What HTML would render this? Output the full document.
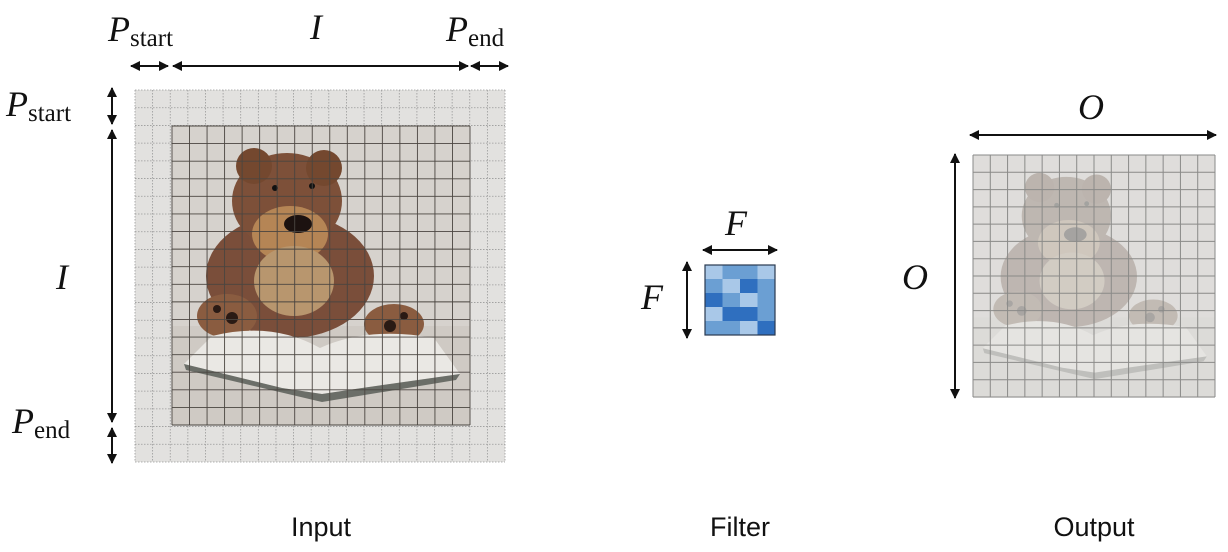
<!DOCTYPE html>
<html><head><meta charset="utf-8"><style>
html,body{margin:0;padding:0;background:#fff;}
svg{display:block;}
.m{font-family:"Liberation Serif",serif;font-style:italic;font-size:36px;fill:#111;}
.s{font-family:"Liberation Serif",serif;font-style:normal;font-size:25px;fill:#111;}
.lab{font-family:"Liberation Sans",sans-serif;font-size:27px;fill:#111;}
</style></head><body>
<svg id="c" width="1228" height="552" viewBox="0 0 1228 552" xmlns="http://www.w3.org/2000/svg">
<defs>
<marker id="ah" viewBox="0 0 10 10" refX="9" refY="5" markerWidth="5" markerHeight="5" orient="auto-start-reverse"><path d="M0,0 L10,5 L0,10 z" fill="#111"/></marker>
<g id="bear">
  <rect x="0" y="0" width="298" height="299" fill="#d6d2cd"/>
  <rect x="0" y="200" width="298" height="99" fill="#cfcac4"/>
  <ellipse cx="118" cy="150" rx="84" ry="62" fill="#7a4e3a"/>
  <ellipse cx="55" cy="190" rx="30" ry="22" fill="#8a5c40"/>
  <ellipse cx="222" cy="198" rx="30" ry="20" fill="#8a5c40"/>
  <ellipse cx="115" cy="75" rx="55" ry="48" fill="#7d5039"/>
  <circle cx="82" cy="40" r="18" fill="#74482f"/>
  <circle cx="152" cy="42" r="18" fill="#74482f"/>
  <ellipse cx="118" cy="108" rx="38" ry="28" fill="#b58555"/>
  <ellipse cx="122" cy="155" rx="40" ry="35" fill="#b8966e"/>
  <ellipse cx="126" cy="98" rx="14" ry="9" fill="#1c1210"/>
  <circle cx="103" cy="62" r="3" fill="#111"/><circle cx="140" cy="60" r="3" fill="#111"/>
  <circle cx="60" cy="192" r="6" fill="#2a1a14"/><circle cx="45" cy="183" r="4" fill="#2a1a14"/>
  <circle cx="218" cy="200" r="6" fill="#2a1a14"/><circle cx="232" cy="190" r="4" fill="#2a1a14"/>
  <path d="M12,238 L40,210 Q100,195 148,222 Q196,200 262,212 L288,248 L190,262 L150,268 L110,262 Z" fill="#eae8e4"/>
  <path d="M12,238 L110,262 L150,268 L190,262 L288,248 L284,254 L150,276 L14,244 Z" fill="#6b6e68"/>
</g>
</defs>

<rect x="135" y="90" width="370" height="372" fill="#e2e1df"/>
<g id="padGrid"></g>
<use href="#bear" x="172" y="126"/>
<g id="inGrid"></g>

<g id="filter"></g>

<rect x="973" y="155" width="242" height="242" fill="#e4e3e0"/>
<g opacity="0.3" style="filter:grayscale(0.5)">
<use href="#bear" transform="translate(973,155) scale(0.812)"/>
</g>
<g id="outGrid"></g>

<g stroke="#111" stroke-width="2" fill="none">
<line x1="131" y1="66" x2="168" y2="66" marker-start="url(#ah)" marker-end="url(#ah)"/>
<line x1="173" y1="66" x2="468" y2="66" marker-start="url(#ah)" marker-end="url(#ah)"/>
<line x1="471" y1="66" x2="508" y2="66" marker-start="url(#ah)" marker-end="url(#ah)"/>
<line x1="112" y1="88" x2="112" y2="124" marker-start="url(#ah)" marker-end="url(#ah)"/>
<line x1="112" y1="130" x2="112" y2="422" marker-start="url(#ah)" marker-end="url(#ah)"/>
<line x1="112" y1="428" x2="112" y2="463" marker-start="url(#ah)" marker-end="url(#ah)"/>
<line x1="703" y1="250" x2="777" y2="250" marker-start="url(#ah)" marker-end="url(#ah)"/>
<line x1="687" y1="262" x2="687" y2="338" marker-start="url(#ah)" marker-end="url(#ah)"/>
<line x1="970" y1="135" x2="1216" y2="135" marker-start="url(#ah)" marker-end="url(#ah)"/>
<line x1="955" y1="154" x2="955" y2="398" marker-start="url(#ah)" marker-end="url(#ah)"/>
</g>

<text x="108" y="41" class="m">P<tspan class="s" dy="5">start</tspan></text>
<text x="310" y="39" class="m">I</text>
<text x="446" y="41" class="m">P<tspan class="s" dy="5">end</tspan></text>
<text x="6" y="116" class="m">P<tspan class="s" dy="5">start</tspan></text>
<text x="56" y="289" class="m">I</text>
<text x="12" y="433" class="m">P<tspan class="s" dy="5">end</tspan></text>
<text x="725" y="235" class="m">F</text>
<text x="641" y="309" class="m">F</text>
<text x="1078" y="119" class="m">O</text>
<text x="902" y="289" class="m">O</text>

<text x="321" y="536" class="lab" text-anchor="middle">Input</text>
<text x="740" y="536" class="lab" text-anchor="middle">Filter</text>
<text x="1094" y="536" class="lab" text-anchor="middle">Output</text>
</svg>
<script>
const padCells = 21, inCells = 17, outCells = 14;
const filterLevels = [[0,1,1,0],[1,0,2,1],[2,1,0,1],[0,2,2,1],[1,1,0,2]];
const filterColors = ['#a9c8e8','#6b9fd3','#2f6fbf'];
const NS='http://www.w3.org/2000/svg';
function grid(g,x0,y0,w,h,nx,ny,stroke,sw,dash){
  for(let i=0;i<=nx;i++){const l=document.createElementNS(NS,'line');const x=x0+w*i/nx;
    l.setAttribute('x1',x);l.setAttribute('x2',x);l.setAttribute('y1',y0);l.setAttribute('y2',y0+h);
    l.setAttribute('stroke',stroke);l.setAttribute('stroke-width',sw);if(dash)l.setAttribute('stroke-dasharray',dash);
    
    
    g.appendChild(l);}
  for(let j=0;j<=ny;j++){const l=document.createElementNS(NS,'line');const y=y0+h*j/ny;
    l.setAttribute('y1',y);l.setAttribute('y2',y);l.setAttribute('x1',x0);l.setAttribute('x2',x0+w);
    l.setAttribute('stroke',stroke);l.setAttribute('stroke-width',sw);if(dash)l.setAttribute('stroke-dasharray',dash);
    
    
    g.appendChild(l);}
}
grid(document.getElementById('padGrid'),135,90,370,372,padCells,padCells,'#999',0.8,'1.5,1.5');
grid(document.getElementById('inGrid'),172,126,298,299,inCells,inCells,'#4a4540',0.9,null);
grid(document.getElementById('outGrid'),973,155,242,242,outCells,outCells,'#8a8a88',1,null);
const fg=document.getElementById('filter');
const fx=705,fy=265,cw=70/4,ch=70/5;
filterLevels.forEach((row,r)=>row.forEach((v,c)=>{
  const rc=document.createElementNS(NS,'rect');
  rc.setAttribute('x',fx+c*cw);rc.setAttribute('y',fy+r*ch);rc.setAttribute('width',cw);rc.setAttribute('height',ch);
  rc.setAttribute('fill',filterColors[v]);
  
  
  fg.appendChild(rc);
}));
const b=document.createElementNS(NS,'rect');
b.setAttribute('x',fx);b.setAttribute('y',fy);b.setAttribute('width',70);b.setAttribute('height',70);
b.setAttribute('fill','none');b.setAttribute('stroke','#2a3a50');b.setAttribute('stroke-width',1.2);


fg.appendChild(b);
</script>
</body></html>
